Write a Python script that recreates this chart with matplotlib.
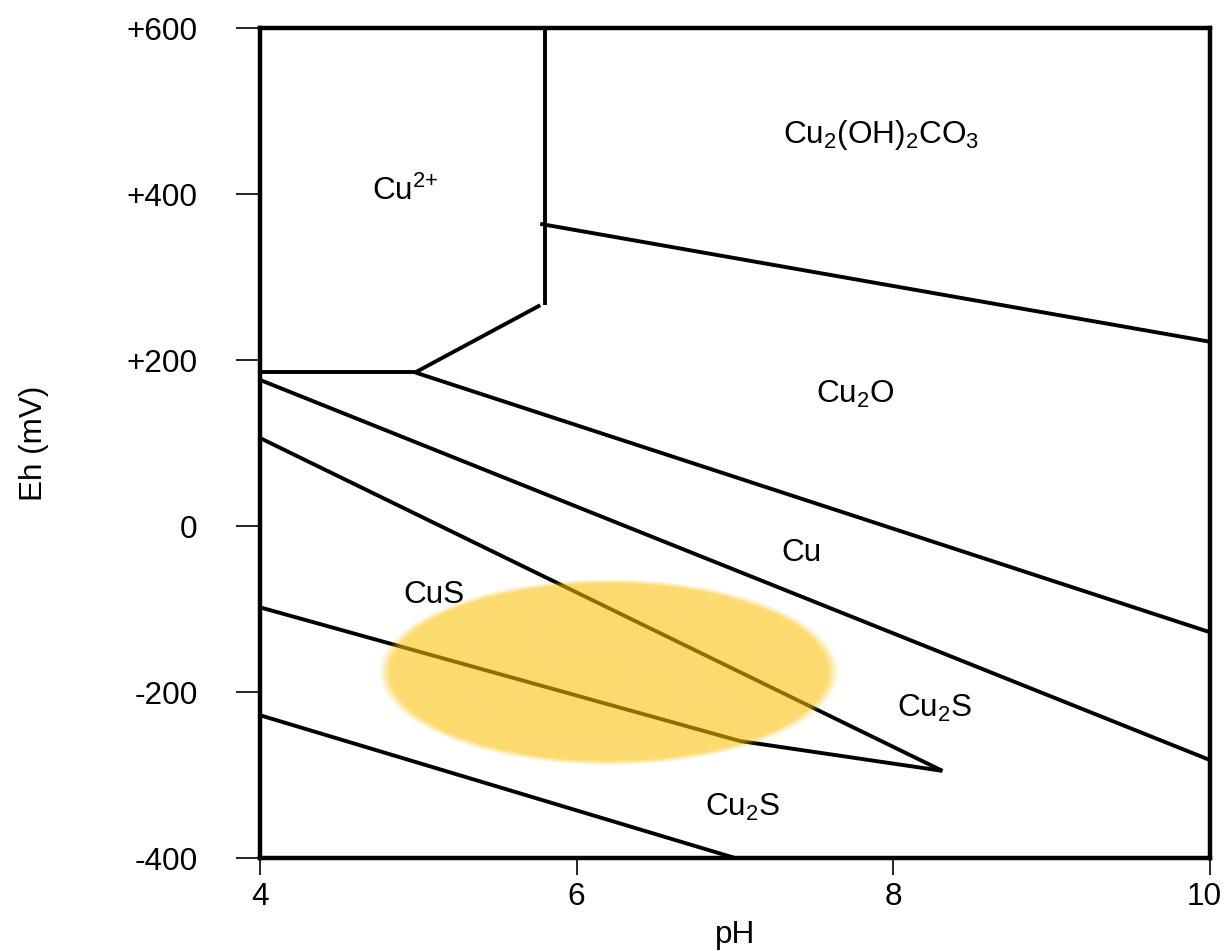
"""
Eh-pH stability diagram for copper minerals (Cu-S-C-O-H system).
"""

import numpy as np
import matplotlib
matplotlib.use("Agg")
import matplotlib.pyplot as plt
from matplotlib.transforms import ScaledTranslation

plt.rcParams['font.family'] = ['Liberation Sans', 'DejaVu Sans']
plt.rcParams['mathtext.fontset'] = 'custom'
plt.rcParams['mathtext.rm'] = 'Liberation Sans'
plt.rcParams['mathtext.it'] = 'Liberation Sans:italic'

# boundary lines (pH, Eh in mV)
cu2_vertical_ph = [5.8, 5.8]
cu2_vertical_eh = [600, 266]
malachite_ph = [5.77, 10.0]
malachite_eh = [364, 222]
cu2_flat_ph = [4.0, 4.98]
cu2_flat_eh = [185, 185]
cu2_slope_ph = [4.98, 5.77]
cu2_slope_eh = [185, 266]
cu2o_cu_ph = [4.98, 10.0]
cu2o_cu_eh = [185, -128]
cu_cu2s_ph = [4.0, 10.0]
cu_cu2s_eh = [176, -282]
cus_upper_ph = [4.0, 8.31]
cus_upper_eh = [106, -295]
cus_lower_ph = [4.0, 7.03, 8.31]
cus_lower_eh = [-98, -259, -295]
cu2s_bottom_ph = [4.0, 7.0]
cu2s_bottom_eh = [-228, -400]

# mineral field labels
label_text = [r'$\mathrm{Cu^{2{+}}}$', r'$\mathrm{Cu_2(OH)_2CO_3}$', r'$\mathrm{Cu_2O}$',
              'Cu', 'CuS', r'$\mathrm{Cu_2S}$', r'$\mathrm{Cu_2S}$']
label_ph = [4.92, 7.92, 7.76, 7.42, 5.10, 8.26, 7.05]
label_eh = [393, 461, 148, -42, -93, -230, -349]

# highlighted zone (ellipse centre and half axes)
zone_ph, zone_eh = 6.205, -176
zone_half_ph, zone_half_eh = 1.425, 110

x_ticks = [4, 6, 8, 10]
y_ticks = [600, 400, 200, 0, -200, -400]
y_tick_labels = ['+600', '+400', '+200', '0', '-200', '-400']

fig = plt.figure(figsize=(12.25, 9.51), dpi=100)
ax = fig.add_axes([260 / 1225, 1 - 858 / 951, 950 / 1225, 830 / 951])

segments = [
    (cu2_vertical_ph, cu2_vertical_eh), (malachite_ph, malachite_eh),
    (cu2_flat_ph, cu2_flat_eh), (cu2_slope_ph, cu2_slope_eh),
    (cu2o_cu_ph, cu2o_cu_eh), (cu_cu2s_ph, cu_cu2s_eh),
    (cus_upper_ph, cus_upper_eh), (cus_lower_ph, cus_lower_eh),
    (cu2s_bottom_ph, cu2s_bottom_eh),
]
for ph, eh in segments:
    ax.plot(ph, eh, color='black', lw=2.8, solid_capstyle='butt', zorder=2)

# soft-edged yellow ellipse drawn as an RGBA image over the lines
gx = np.linspace(zone_ph - 1.2 * zone_half_ph, zone_ph + 1.2 * zone_half_ph, 500)
gy = np.linspace(zone_eh - 1.3 * zone_half_eh, zone_eh + 1.3 * zone_half_eh, 300)
X, Y = np.meshgrid(gx, gy)
r = np.sqrt(((X - zone_ph) / zone_half_ph) ** 2 + ((Y - zone_eh) / zone_half_eh) ** 2)
edge = np.clip((1.03 - r) / 0.07, 0, 1)
edge = edge * edge * (3 - 2 * edge)
img = np.zeros(X.shape + (4,))
img[..., 0] = 250 / 255
img[..., 1] = 192 / 255
img[..., 2] = 5 / 255
img[..., 3] = 0.58 * edge
ax.imshow(img, extent=[gx[0], gx[-1], gy[0], gy[-1]], origin='lower',
          aspect='auto', interpolation='bilinear', zorder=3)

for txt, ph, eh in zip(label_text, label_ph, label_eh):
    ax.text(ph, eh, txt, fontsize=22.7, ha='center', va='baseline', zorder=4)

ax.set_xlim(4, 10)
ax.set_ylim(-400, 600)
ax.set_xticks(x_ticks)
ax.set_xticklabels([str(t) for t in x_ticks])
ax.set_yticks(y_ticks)
ax.set_yticklabels(y_tick_labels)
ax.tick_params(axis='y', direction='out', length=17, width=1.2, pad=28, labelsize=22.7)
ax.tick_params(axis='x', direction='out', length=12, width=1.2, pad=5, labelsize=22.7)
for s in ax.spines.values():
    s.set_linewidth(3.2)
    s.set_zorder(5)

# nudge the last pH label left so it stays inside the figure
last = ax.get_xticklabels()[-1]
last.set_transform(last.get_transform() + ScaledTranslation(-0.06, 0, fig.dpi_scale_trans))

ax.set_xlabel('pH', fontsize=22.7, labelpad=6)
ax.set_ylabel('Eh (mV)', fontsize=22.7, labelpad=56)

plt.savefig('out.png', dpi=100)
